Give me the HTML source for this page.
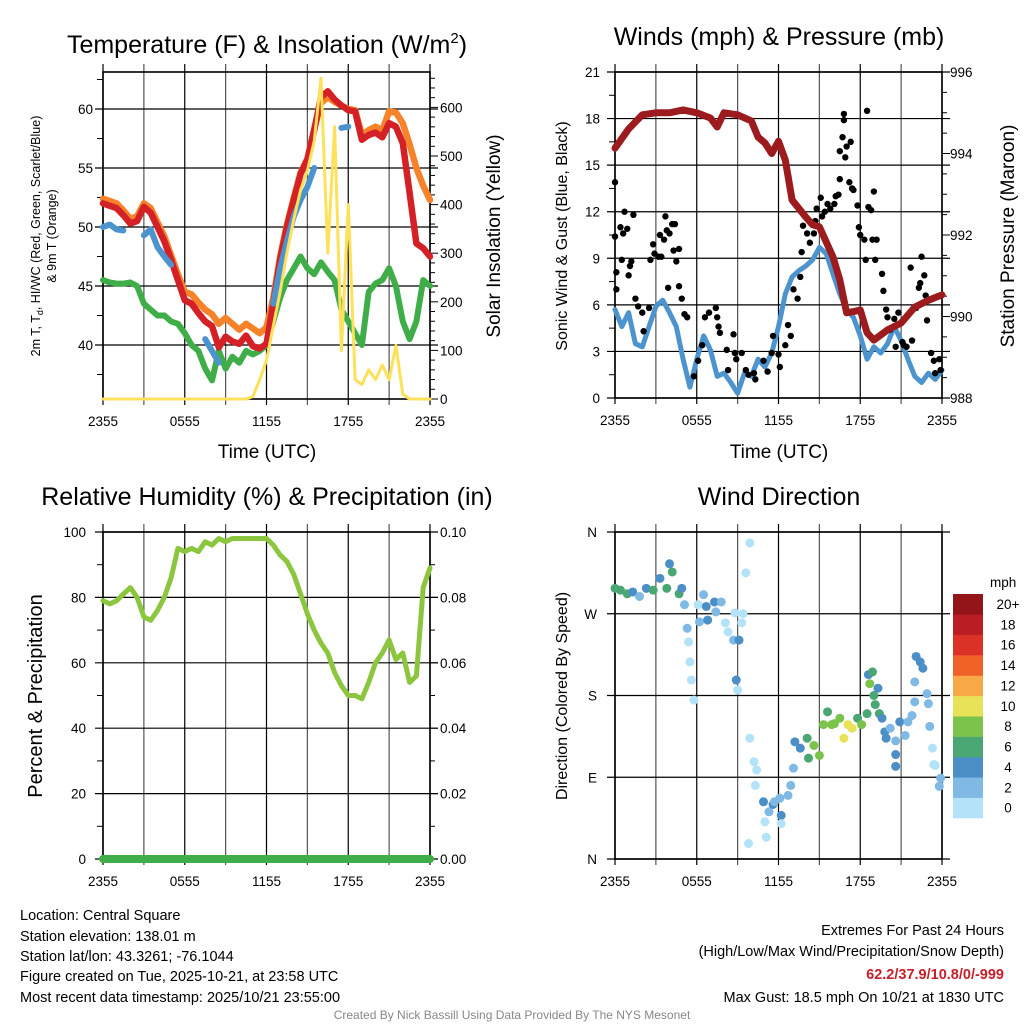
<!DOCTYPE html>
<html><head><meta charset="utf-8"><style>
html,body{margin:0;padding:0;background:#fff;}
svg{display:block;font-family:"Liberation Sans",Arial,sans-serif;}
</style></head><body>
<svg id="chart" width="1024" height="1024" viewBox="0 0 1024 1024" xmlns="http://www.w3.org/2000/svg">
<rect width="1024" height="1024" fill="#fff"/>
<g id="g"></g>
<g font-size="25" text-anchor="middle" fill="#000">
<text x="267" y="53">Temperature (F) &amp; Insolation (W/m<tspan font-size="15" dy="-10">2</tspan><tspan dy="10">)</tspan></text>
<text x="779" y="45">Winds (mph) &amp; Pressure (mb)</text>
<text x="267" y="505">Relative Humidity (%) &amp; Precipitation (in)</text>
<text x="779" y="505">Wind Direction</text>
</g>
<g font-size="19" text-anchor="middle">
<text x="267" y="458">Time (UTC)</text>
<text x="779" y="458">Time (UTC)</text>
<text font-size="12.5" transform="translate(40,236) rotate(-90)">2m T, T<tspan font-size="9" dy="3">d</tspan><tspan dy="-3">, HI/WC (Red, Green, Scarlet/Blue)</tspan></text>
<text font-size="12.5" transform="translate(56,236) rotate(-90)">&amp; 9m T (Orange)</text>
<text transform="translate(500,236) rotate(-90)">Solar Insolation (Yellow)</text>
<text font-size="16" transform="translate(567,236) rotate(-90)">Sonic Wind &amp; Gust (Blue, Black)</text>
<text transform="translate(1014,236) rotate(-90)">Station Pressure (Maroon)</text>
<text font-size="20" transform="translate(42,696) rotate(-90)">Percent &amp; Precipitation</text>
<text font-size="16" transform="translate(567,696) rotate(-90)">Direction (Colored By Speed)</text>
</g>
<g font-size="14.5" fill="#000">
<text x="20" y="920">Location: Central Square</text>
<text x="20" y="941">Station elevation: 138.01 m</text>
<text x="20" y="961">Station lat/lon: 43.3261; -76.1044</text>
<text x="20" y="981">Figure created on Tue, 2025-10-21, at 23:58 UTC</text>
<text x="20" y="1002">Most recent data timestamp: 2025/10/21 23:55:00</text>
<g text-anchor="end">
<text x="1004" y="935">Extremes For Past 24 Hours</text>
<text x="1004" y="956">(High/Low/Max Wind/Precipitation/Snow Depth)</text>
<text x="1004" y="979" fill="#c8202a" font-weight="bold">62.2/37.9/10.8/0/-999</text>
<text x="1004" y="1002">Max Gust: 18.5 mph On 10/21 at 1830 UTC</text>
</g>
<text x="512" y="1019" text-anchor="middle" font-size="12" fill="#888">Created By Nick Bassill Using Data Provided By The NYS Mesonet</text>
</g>
</svg>
<script>
// ---- data (0..24 h, 0.5 h steps) ----
const hours = [];
for (let i = 0; i <= 48; i++) hours.push(i / 2);
const tempRed = [52.0,51.8,51.6,51.0,50.3,50.5,51.7,51.2,50.0,48.8,47.2,45.5,43.8,43.5,42.7,42.0,41.6,39.8,40.7,40.3,40.1,40.8,39.9,39.7,40.1,43.5,47.2,50.0,52.3,54.5,55.7,58.2,61.0,61.5,60.8,60.3,59.9,59.8,57.4,57.8,58.0,57.6,58.8,58.5,57.1,52.9,48.6,48.2,47.5];
const tempOrange = [52.4,52.2,52.0,51.4,50.7,50.9,52.0,51.6,50.4,49.2,47.6,46.0,44.5,44.3,43.6,43.0,42.6,41.8,42.3,41.8,41.3,41.8,41.4,41.0,41.5,44.0,47.5,50.2,52.5,54.6,55.8,58.3,60.5,61.0,60.6,60.3,60.0,59.9,57.8,58.2,58.5,58.2,59.8,59.7,58.8,57.0,55.0,53.5,52.3];
const tempBlue = [50.0,50.2,49.8,49.7,null,null,49.3,49.8,48.3,47.5,46.8,null,null,null,null,40.5,39.5,38.5,null,null,null,null,null,null,null,43.5,46.5,48.8,50.9,52.3,53.4,55.0,null,null,null,58.4,58.5,null,null,null,null,null,null,null,null,null,null,null,null];
const dewGreen = [45.5,45.3,45.2,45.2,45.3,45.0,43.5,43.0,42.5,42.5,42.0,41.8,41.0,40.0,39.5,38.0,37.0,39.5,38.0,39.0,38.5,39.5,39.2,39.5,40.0,42.0,44.0,45.5,46.5,47.5,46.5,46.0,47.0,46.2,45.5,43.0,42.0,41.0,40.0,44.5,45.2,45.5,46.5,45.0,42.0,40.5,42.0,45.5,45.0];
const solar = [0,0,0,0,0,0,0,0,0,0,0,0,0,0,0,0,0,0,0,0,0,0,5,40,80,150,220,300,370,430,470,530,660,300,560,100,400,40,30,60,40,70,40,110,10,0,0,0,0];
const windSpeed = [5.7,4.6,5.5,3.5,3.3,4.6,5.9,6.3,5.5,4.6,2.5,0.7,2.5,4.0,3.1,1.4,1.6,1.0,0.3,1.6,1.4,2.5,2.0,2.9,4.6,6.7,7.8,8.2,8.5,8.9,9.7,9.3,8.0,6.7,5.7,5.2,4.0,2.5,3.3,2.9,3.5,4.6,3.7,2.5,1.4,1.0,1.6,1.2,1.8];
const pressureHours = [0,1,2,3,4,5,6,7,7.5,8,9,10,10.5,11,11.5,12,12.5,13,14,14.5,15,16,16.5,17,17.5,18,18.5,19,20,21,22,23,24];
const pressure = [994.13,994.6,994.95,995.0,995.0,995.07,995.0,994.87,994.65,995.0,994.95,994.8,994.4,994.26,994.0,994.3,993.84,992.86,992.44,992.25,992.2,991.46,990.9,990.09,990.12,990.16,989.6,989.42,989.67,989.84,990.23,990.4,990.53];
const gustHours = [0,0,0.1,0.1,0.4,0.7,0.6,0.9,0.5,1.2,1.35,1.1,1.0,1.5,1.7,2.0,2.1,2.5,2.6,2.8,2.9,3.2,3.3,3.4,3.6,3.7,3.8,4.0,4.2,4.3,4.4,4.5,4.7,3.9,4.7,4.9,5.1,5.3,5.8,6.1,6.4,6.6,6.9,7.4,7.5,7.6,7.7,8.2,8.3,8.7,8.8,8.9,9.3,9.6,9.8,10.2,10.3,10.9,11.2,11.5,11.6,12.0,12.1,12.5,12.7,12.9,13.1,13.4,13.6,13.7,13.8,14.1,14.3,14.6,14.7,14.8,15.1,15.2,15.4,15.6,15.8,16.1,16.2,16.4,16.5,16.5,16.7,16.8,16.8,16.9,17.0,17.2,17.3,17.4,17.5,17.8,17.9,18.0,18.3,18.4,18.5,18.6,18.8,18.9,19.0,19.1,19.2,19.6,19.7,19.9,20.0,20.2,20.5,20.6,20.8,21.1,21.2,21.4,21.7,21.8,22.1,22.3,22.4,22.5,22.7,22.8,22.9,23.2,23.4,23.5,23.8,23.9];
const gustValues = [13.9,10.4,8.1,7.0,11.0,12.0,10.6,10.9,8.9,8.8,11.8,8.5,7.9,6.4,5.9,5.5,4.3,5.8,8.9,9.9,9.3,9.1,10.5,9.1,10.2,11.7,10.8,10.6,11.2,9.5,11.2,8.8,9.6,7.1,7.2,6.4,5.4,5.2,1.4,2.4,3.4,5.2,5.5,5.8,5.2,4.6,4.2,3.1,1.8,4.1,2.9,2.5,2.9,1.8,1.5,1.6,1.2,2.4,1.7,2.9,4.0,2.8,2.0,3.4,4.7,4.0,7.0,6.4,7.8,9.4,11.1,10.6,10.0,10.6,11.4,12.2,12.9,11.7,12.0,12.5,12.2,12.5,13.0,13.1,14.1,15.9,16.8,17.9,18.3,15.5,16.2,13.9,16.5,13.5,13.4,12.4,11.0,10.5,10.2,8.9,18.5,12.3,12.1,10.2,13.3,8.9,10.2,8.0,6.9,5.7,5.2,4.4,5.1,3.3,5.5,3.6,3.4,3.3,8.4,3.7,5.8,7.1,7.4,9.1,7.9,6.6,5.0,2.9,2.4,1.6,2.5,1.8];
const rh = [79,78,79,81,83,80,74,73,76,80,86,95,94,95,94,97,96,98,97,98,98,98,98,98,98,96,93,91,87,81,75,70,66,63,57,53,50,50,49,54,60,63,67,61,63,54,56,83,89];
const precip = [0,0,0,0,0,0,0,0,0,0,0,0,0,0,0,0,0,0,0,0,0,0,0,0,0,0,0,0,0,0,0,0,0,0,0,0,0,0,0,0,0,0,0,0,0,0,0,0,0];
const dirHours = [0,0.4,0.9,1.3,1.8,2.3,2.8,3.3,3.8,4.0,4.2,4.7,4.9,5.1,5.3,5.4,5.5,5.6,5.8,6.1,6.2,6.5,6.7,6.8,7.3,7.4,7.8,8.1,8.3,8.7,8.8,8.9,9.0,9.1,9.3,9.4,9.6,9.9,9.9,10.2,10.4,10.3,9.8,10.9,11.0,11.3,11.1,11.6,11.7,12.1,12.2,12.2,12.7,12.9,13.1,13.2,13.6,14.1,14.2,14.6,15.0,15.3,15.6,15.9,16.1,16.5,16.8,17.1,17.4,17.8,18.1,18.5,18.6,18.9,18.7,19.0,19.3,19.1,19.4,19.6,19.8,19.9,20.2,20.6,20.6,20.6,20.9,21.3,21.5,21.8,22.0,22.1,22.4,22.6,22.0,22.9,23.0,23.1,23.3,23.4,23.5,23.8,23.8,23.9];
const dirValues = [298,296,292,294,289,298,296,309,298,325,316,292,298,280,254,239,217,197,175,280,261,291,278,263,283,272,283,260,250,241,271,197,186,241,260,270,315,348,133,107,98,81,17,63,41,52,24,60,63,67,48,39,70,81,100,129,122,133,111,125,114,148,162,148,149,155,133,148,144,155,148,160,203,206,193,180,188,170,160,155,140,133,144,130,115,102,151,136,151,158,173,223,217,210,195,182,171,146,122,104,103,80,80,89];
const dirSpeeds = [6,6,6,4,2,4,6,4,6,4,6,6,4,2,2,1,0,0,0,1,2,2,4,4,4,2,2,1,1,3,1,4,1,4,1,1,0,0,0,0,0,0,0,4,1,2,1,4,3,2,4,0,2,2,3,4,5,6,7,8,8,8,7,8,9,8,10,10,10,7,8,6,4,6,8,6,4,6,6,4,4,4,3,3,4,4,4,3,3,3,3,4,4,4,3,3,3,2,1,1,1,1,3,2];
const speedColors = ["#b4e2f8","#7fb9e4","#4b8fc6","#4aa673","#7cc34b","#e7e257","#f8a847","#f06128","#dc3127","#bc1c24","#941519"];
const speedLabels = ["0","2","4","6","8","10","12","14","16","18","20+"];
const timeLabels = ["2355","0555","1155","1755","2355"];
const tempTicks = [40,45,50,55,60];
const solarTicks = [0,100,200,300,400,500,600];
const windTicks = [0,3,6,9,12,15,18,21];
const pressTicks = [988,990,992,994,996];
const rhTicks = [0,20,40,60,80,100];
const precipTicks = ["0.00","0.02","0.04","0.06","0.08","0.10"];
const dirTicks = ["N","E","S","W","N"];

const NS = "http://www.w3.org/2000/svg";
const G = document.getElementById("g");
function mk(tag, attrs, parent) {
  const e = document.createElementNS(NS, tag);
  for (const k in attrs) e.setAttribute(k, attrs[k]);
  (parent || G).appendChild(e);
  return e;
}
function panel(x0, x1, y0, y1) {
  return { x0, x1, y0, y1, tx: h => x0 + h / 24 * (x1 - x0) };
}
const P1 = panel(103, 430, 72, 399), P2 = panel(615, 942, 72, 398), P3 = panel(103, 430, 532, 859), P4 = panel(615, 942, 532, 859);
const yTemp = v => 345 - (v - 40) * 11.8;
const ySolar = w => 399 - w * 0.486;
const yWind = v => 398 - v * (326 / 21);
const yPress = p => 398 - (p - 988) * (326 / 8);
const yRH = v => 859 - v * 3.27;
const yPrecip = v => 859 - v * 3270;
const yDir = d => 859 - d * 327 / 360;

function frame(P, name) {
  const g = mk("g", {});
  
  
  for (let k = 0; k <= 8; k++) {
    const x = P.x0 + k * (P.x1 - P.x0) / 8;
    mk("line", { x1: x, x2: x, y1: P.y0 - 8, y2: P.y1 + 6, stroke: k % 2 ? "#555" : "#000", "stroke-width": 1.2 }, g);
  }
  const fr = mk("rect", { x: P.x0, y: P.y0, width: P.x1 - P.x0, height: P.y1 - P.y0, fill: "none", stroke: "#000", "stroke-width": 1.6 }, g);
  
  
  timeLabels.forEach((t, i) => {
    const tl = mk("text", { x: P.x0 + i * (P.x1 - P.x0) / 4, y: P.y1 + 27, "font-size": 13.5, "text-anchor": "middle" }, g);
    tl.textContent = t;
    
    
  });
  return g;
}
function hgrid(P, y, leftLabel, lx) {
  mk("line", { x1: P.x0 - 8, x2: P.x1 + 8, y1: y, y2: y, stroke: "#000", "stroke-width": 1.2 });
  if (leftLabel !== null) {
    const t = mk("text", { x: lx, y: y + 5, "font-size": 13.5, "text-anchor": "end" });
    t.textContent = leftLabel;
    
    
  }
}
function rtick(P, y, len) { mk("line", { x1: P.x1, x2: P.x1 + len, y1: y, y2: y, stroke: "#000", "stroke-width": 1 }); }
function ltick(P, y, len) { mk("line", { x1: P.x0 - len, x2: P.x0, y1: y, y2: y, stroke: "#000", "stroke-width": 1 }); }
function line(P, xs, ys, fy, color, w, name) {
  let d = "", pen = false;
  for (let i = 0; i < xs.length; i++) {
    if (ys[i] === null) { pen = false; continue; }
    d += (pen ? "L" : "M") + P.tx(xs[i]).toFixed(1) + " " + fy(ys[i]).toFixed(1);
    pen = true;
  }
  const p = mk("path", { d, fill: "none", stroke: color, "stroke-width": w, "stroke-linejoin": "round", "stroke-linecap": "round" });
  
  
  return p;
}

// Panel 1
frame(P1, "temperature");
tempTicks.forEach(v => hgrid(P1, yTemp(v), String(v), 93));
for (let v = 37.5; v < 63; v += 5) ltick(P1, yTemp(v), 6);
solarTicks.forEach(w => { rtick(P1, ySolar(w), 8); const t = mk("text", { x: 440, y: ySolar(w) + 5, "font-size": 13.5 }); t.textContent = w;   });
for (let w = 20; w < 670; w += 20) if (w % 100) rtick(P1, ySolar(w), 5);
line(P1, hours, dewGreen, yTemp, "#3fae49", 6, "dewpoint-line");
line(P1, hours, tempOrange, yTemp, "#f6832a", 6.5, "temp-9m-line");
line(P1, hours, tempRed, yTemp, "#d42027", 6.5, "temp-2m-line");
line(P1, hours, tempBlue, yTemp, "#4d94cf", 6, "windchill-line");
line(P1, hours, solar, ySolar, "#fde15a", 3, "solar-line");

// Panel 2
frame(P2, "winds");
windTicks.forEach(v => hgrid(P2, yWind(v), String(v), 600));
for (let v = 1.5; v < 21; v += 3) ltick(P2, yWind(v), 6);
pressTicks.forEach(p => { rtick(P2, yPress(p), 8); const t = mk("text", { x: 950, y: yPress(p) + 5, "font-size": 13.5 }); t.textContent = p;   });
for (let p = 988.5; p < 996; p += 0.5) if (p % 2) rtick(P2, yPress(p), 5);
line(P2, hours, windSpeed, yWind, "#4d94cf", 5, "sonic-wind-line");
gustHours.forEach((h, i) => {
  const c = mk("circle", { cx: P2.tx(h), cy: yWind(gustValues[i]), r: 3.2, fill: "#000" });
  
  
});
line(P2, pressureHours, pressure, yPress, "#9b1b1e", 7, "pressure-line");

// Panel 3
frame(P3, "humidity");
rhTicks.forEach((v, i) => { hgrid(P3, yRH(v), String(v), 86); rtick(P3, yRH(v), 8); const t = mk("text", { x: 440, y: yRH(v) + 5, "font-size": 13.5 }); t.textContent = precipTicks[i];   });
for (let v = 10; v < 100; v += 20) { ltick(P3, yRH(v), 6); rtick(P3, yRH(v), 5); }
line(P3, hours, rh, yRH, "#8cc63f", 5, "rh-line");
line(P3, hours, precip, yPrecip, "#3fae49", 8, "precip-line");

// Panel 4
frame(P4, "direction");
dirTicks.forEach((l, i) => hgrid(P4, yDir(i * 90), l, 597));
dirHours.forEach((h, i) => {
  const bin = Math.min(10, Math.floor(dirSpeeds[i] / 2));
  const c = mk("circle", { cx: P4.tx(h), cy: yDir(dirValues[i]), r: 4.5, fill: speedColors[bin] });
  
  
});
const cb = mk("g", {});


const mt = mk("text", { x: 990, y: 587, "font-size": 13.5 }, cb); mt.textContent = "mph";


speedColors.forEach((c, i) => {
  const y = 818 - (i + 1) * 224 / 11;
  const r = mk("rect", { x: 953, y, width: 30, height: 224 / 11 + 0.3, fill: c }, cb);
  
  
  const t = mk("text", { x: 1008, y: y + 15, "font-size": 13.5, "text-anchor": "middle" }, cb);
  t.textContent = speedLabels[i];
  
  
});
</script>
</body></html>
